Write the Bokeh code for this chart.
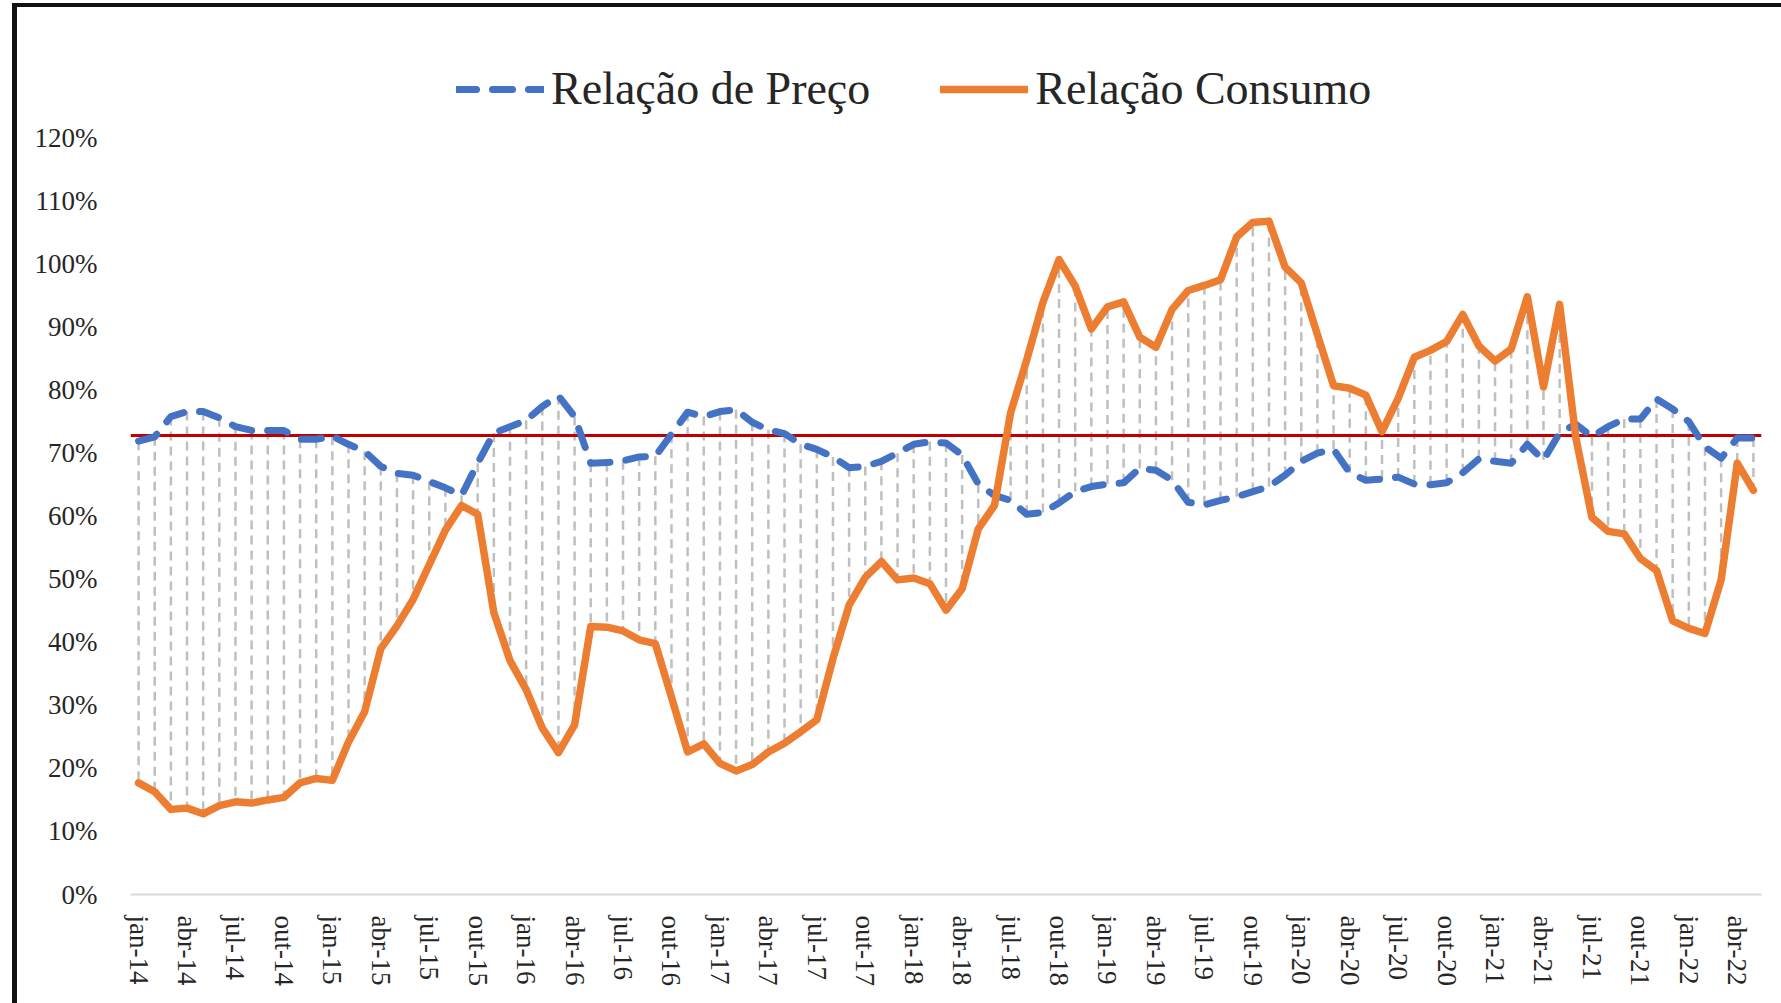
from bokeh.plotting import figure
from bokeh.models import FixedTicker, Legend, LegendItem, Range1d, InlineStyleSheet
from bokeh.embed import file_html
from bokeh.resources import INLINE

# ---------------- data ----------------
meses = ["jan", "fev", "mar", "abr", "mai", "jun", "jul", "ago", "set", "out", "nov", "dez"]
anos = ["14", "15", "16", "17", "18", "19", "20", "21", "22"]
periodos = [f"{m}-{a}" for a in anos for m in meses][:101]

relacao_preco = [
    71.9, 72.6, 75.8, 76.6, 76.6, 75.6, 74.2, 73.6, 73.6, 73.6, 72.2, 72.2,
    72.7, 71.4, 70.3, 67.9, 66.8, 66.5, 65.5, 64.5, 63.3, 68.4, 73.2, 74.2,
    75.2, 77.4, 79.1, 75.8, 68.4, 68.5, 68.8, 69.4, 69.5, 73.0, 76.5, 75.8,
    76.6, 76.9, 74.9, 73.7, 73.1, 71.4, 70.6, 69.4, 67.7, 67.9, 68.7, 70.0,
    71.4, 71.8, 71.6, 69.7, 65.1, 63.3, 62.5, 60.3, 60.6, 62.1, 63.9, 64.7,
    65.1, 65.3, 67.6, 67.3, 65.7, 62.2, 61.8, 62.5, 63.1, 63.9, 64.7, 66.5,
    68.7, 70.0, 70.6, 66.9, 65.7, 65.9, 66.2, 65.1, 65.0, 65.3, 66.9, 69.1,
    68.7, 68.4, 71.4, 68.9, 73.2, 74.6, 72.6, 74.2, 75.4, 75.4, 78.6, 77.0,
    75.0, 71.0, 69.2, 72.4, 72.4,
]

relacao_consumo = [
    17.7, 16.3, 13.5, 13.7, 12.8, 14.1, 14.7, 14.5, 15.0, 15.4, 17.7, 18.4,
    18.1, 24.2, 29.0, 39.0, 42.6, 46.8, 52.3, 57.8, 61.7, 60.3, 44.7, 37.1,
    32.5, 26.4, 22.5, 26.9, 42.5, 42.4, 41.8, 40.4, 39.8, 31.3, 22.6, 23.9,
    20.8, 19.6, 20.6, 22.6, 24.0, 25.8, 27.7, 37.4, 45.9, 50.3, 52.8, 49.9,
    50.2, 49.3, 45.1, 48.5, 58.0, 61.7, 76.4, 84.8, 93.9, 100.7, 96.5, 89.7,
    93.2, 94.0, 88.4, 86.8, 92.8, 95.8, 96.6, 97.5, 104.3, 106.6, 106.8, 99.5,
    97.0, 88.8, 80.7, 80.3, 79.2, 73.4, 78.7, 85.2, 86.3, 87.7, 92.0, 87.0,
    84.6, 86.5, 94.8, 80.5, 93.6, 72.5, 59.8, 57.6, 57.2, 53.3, 51.4, 43.4,
    42.2, 41.4, 49.9, 68.4, 64.1,
]

referencia = 72.8
y_ticks = [0, 10, 20, 30, 40, 50, 60, 70, 80, 90, 100, 110, 120]
tick_labels = periodos[::3]

x = list(range(len(periodos)))
x_ticks = x[::3]

FONT = "Liberation Serif"
TXT = "#262626"

FRAME_H = 834
PX_PER_PCT = 756.6 / 120.0

p = figure(
    output_backend="svg",
    toolbar_location=None,
    frame_width=1631,
    frame_height=FRAME_H,
    x_range=Range1d(x[0] - 0.5, x[-1] + 0.5),
    y_range=Range1d(0, FRAME_H / PX_PER_PCT),
    min_border_left=130,
    min_border_right=10,
    min_border_top=60,
    min_border_bottom=92,
)
p.stylesheets = [InlineStyleSheet(css="""
:host { position: relative; overflow: visible; }
:host::after {
  content: "";
  position: absolute;
  left: 12px; top: 3px; right: -10px; bottom: -16px;
  border-top: 4px solid #111111;
  border-left: 5px solid #111111;
  pointer-events: none;
  z-index: 100;
}
""")]
p.outline_line_color = None
p.grid.visible = False
p.background_fill_color = "white"
p.border_fill_color = "white"

# drop lines between the two series
p.segment(x0=x, y0=relacao_preco, x1=x, y1=relacao_consumo,
          line_color="#BFBFBF", line_width=2.5, line_dash="9 6")

# reference line
p.line(x=[x[0] - 0.5, x[-1] + 0.5], y=[referencia, referencia],
       line_color="#C00000", line_width=3)

r_preco = p.line(x=x, y=relacao_preco, line_color="#4472C4", line_width=7,
                 line_dash="20 16", line_cap="round", line_join="round")
r_consumo = p.line(x=x, y=relacao_consumo, line_color="#ED7D31", line_width=7.5,
                   line_cap="round", line_join="round")

# axes
p.xaxis.ticker = FixedTicker(ticks=x_ticks)
p.xaxis.major_label_overrides = {t: lab for t, lab in zip(x_ticks, tick_labels)}
p.xaxis.major_label_orientation = "vertical"
p.xaxis.axis_line_color = "#D9D9D9"
p.xaxis.axis_line_width = 2
p.xaxis.major_tick_line_color = None
p.xaxis.minor_tick_line_color = None
p.xaxis.major_label_standoff = 15
p.xaxis.major_label_text_font = FONT
p.xaxis.major_label_text_font_size = "27px"
p.xaxis.major_label_text_color = TXT

p.yaxis.ticker = FixedTicker(ticks=y_ticks)
p.yaxis.major_label_overrides = {t: f"{t}%" for t in y_ticks}
p.yaxis.axis_line_color = None
p.yaxis.major_tick_line_color = None
p.yaxis.minor_tick_line_color = None
p.yaxis.major_label_standoff = 27
p.yaxis.major_label_text_font = FONT
p.yaxis.major_label_text_font_size = "27px"
p.yaxis.major_label_text_color = TXT

legend = Legend(
    items=[
        LegendItem(label="Relação de Preço", renderers=[r_preco]),
        LegendItem(label="Relação Consumo", renderers=[r_consumo]),
    ],
    orientation="horizontal",
    location=(326, 779),
    padding=0,
    margin=0,
    spacing=70,
    glyph_width=88,
    glyph_height=20,
    label_standoff=7,
    label_text_font=FONT,
    label_text_font_size="46px",
    label_text_color=TXT,
    border_line_color=None,
    background_fill_alpha=0,
)
p.add_layout(legend)

open("out.html", "w").write(file_html(p, INLINE))
